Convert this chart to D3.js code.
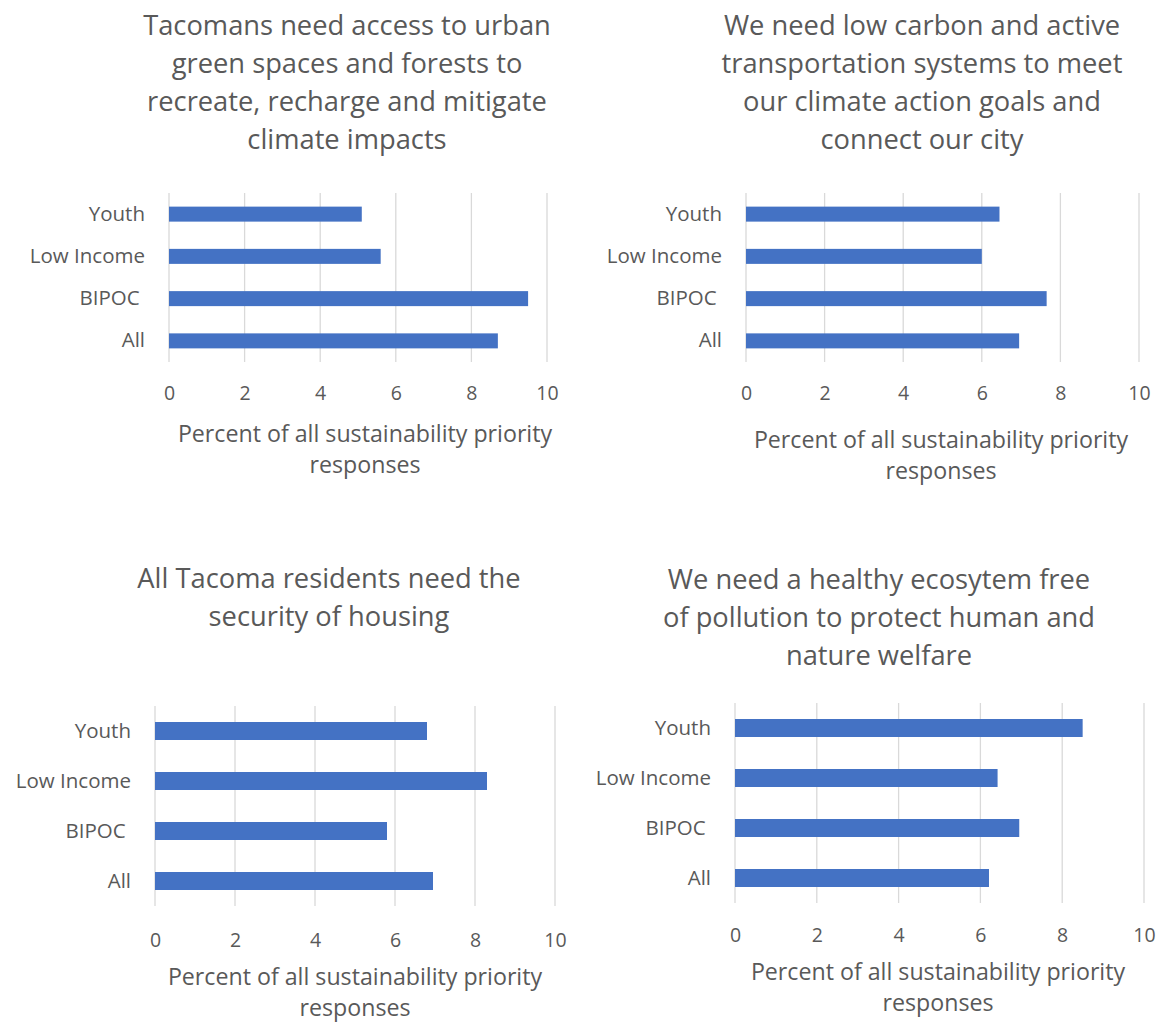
<!DOCTYPE html>
<html>
<head>
<meta charset="utf-8">
<script src="https://cdn.jsdelivr.net/npm/d3@7"></script>
<style>
  html, body { margin: 0; padding: 0; background: #fff; }
  svg { display: block; font-family: "Open Sans", sans-serif; }
</style>
</head>
<body>
<svg id="chart" width="1157" height="1025"></svg>
<script>
// Survey groups, listed top to bottom in every panel
const groups = ["Youth", "Low Income", "BIPOC ", "All"];

// Percent of all sustainability priority responses, per priority statement
const greenSpaces   = [5.1, 5.6, 9.5, 8.7];
const transport     = [6.45, 6.0, 7.65, 6.95];
const housing       = [6.8, 8.3, 5.8, 6.95];
const ecosystem     = [8.5, 6.42, 6.95, 6.21];

const titleGreen     = ["Tacomans need access to urban", "green spaces and forests to", "recreate, recharge and mitigate", "climate impacts"];
const titleTransport = ["We need low carbon and active", "transportation systems to meet", "our climate action goals and", "connect our city"];
const titleHousing   = ["All Tacoma residents need the", "security of housing"];
const titleEcosystem = ["We need a healthy ecosytem free", "of pollution to protect human and", "nature welfare"];

const xTicks = [0, 2, 4, 6, 8, 10];
const axisTitle = ["Percent of all sustainability priority", "responses"];

// Panel layout (pixel frames for each small chart)
const panels = [
  { values: greenSpaces, title: titleGreen,     titleX: 347, titleY: 25,  x0: 169, x1: 547, y0: 193, y1: 362, barH: 15, tickY: 393, axX: 365, axY: 434 },
  { values: transport,   title: titleTransport, titleX: 922, titleY: 25,  x0: 746, x1: 1139, y0: 193, y1: 362, barH: 15, tickY: 393, axX: 941, axY: 440 },
  { values: housing,     title: titleHousing,   titleX: 329, titleY: 578, x0: 155, x1: 555, y0: 706, y1: 906, barH: 18, tickY: 940, axX: 355, axY: 977 },
  { values: ecosystem,   title: titleEcosystem, titleX: 879, titleY: 579, x0: 735, x1: 1144, y0: 703, y1: 903, barH: 18, tickY: 935, axX: 938, axY: 972 }
];

const textColor = "#595959";
const gridColor = "#d9d9d9";
const barColor  = "#4472c4";

const svg = d3.select("#chart");

panels.forEach(p => {
  const g = svg.append("g");

  const x = d3.scaleLinear().domain([0, 10]).range([p.x0, p.x1]);
  const y = d3.scaleBand().domain(groups).range([p.y0, p.y1]);

  // Title
  g.append("text")
    .attr("text-anchor", "middle")
    .attr("fill", textColor)
    .attr("font-size", 27.3)
    .selectAll("tspan")
    .data(p.title)
    .join("tspan")
    .attr("x", p.titleX)
    .attr("y", (d, i) => p.titleY + i * 38.3)
    .attr("dy", "0.35em")
    .text(d => d);

  // Vertical gridlines
  g.append("g")
    .selectAll("line")
    .data(xTicks)
    .join("line")
    .attr("x1", d => x(d)).attr("x2", d => x(d))
    .attr("y1", p.y0).attr("y2", p.y1)
    .attr("stroke", gridColor)
    .attr("stroke-width", 1.3);

  // Bars
  g.append("g")
    .selectAll("rect")
    .data(groups.map((k, i) => ({ k, v: p.values[i] })))
    .join("rect")
    .attr("x", x(0))
    .attr("y", d => y(d.k) + y.bandwidth() / 2 - p.barH / 2)
    .attr("width", d => x(d.v) - x(0))
    .attr("height", p.barH)
    .attr("fill", barColor);

  // Category axis
  const yAxis = g.append("g")
    .attr("transform", `translate(${p.x0 - 24},0)`)
    .call(d3.axisLeft(y).tickSize(0).tickPadding(0));
  yAxis.select(".domain").remove();
  yAxis.selectAll("text")
    .attr("fill", textColor)
    .attr("font-size", 20.5)
    .attr("font-family", "'Open Sans', sans-serif")
    .style("white-space", "pre");

  // Value axis
  const xAxis = g.append("g")
    .attr("transform", `translate(0,${p.tickY})`)
    .call(d3.axisBottom(x).tickValues(xTicks).tickSize(0).tickPadding(0));
  xAxis.select(".domain").remove();
  xAxis.selectAll("text")
    .attr("dy", "0.35em")
    .attr("fill", textColor)
    .attr("font-size", 19.5)
    .attr("font-family", "'Open Sans', sans-serif");

  // Value axis title
  g.append("text")
    .attr("text-anchor", "middle")
    .attr("fill", textColor)
    .attr("font-size", 23.2)
    .selectAll("tspan")
    .data(axisTitle)
    .join("tspan")
    .attr("x", p.axX)
    .attr("y", (d, i) => p.axY + i * 31)
    .attr("dy", "0.35em")
    .text(d => d);
});
</script>
</body>
</html>
